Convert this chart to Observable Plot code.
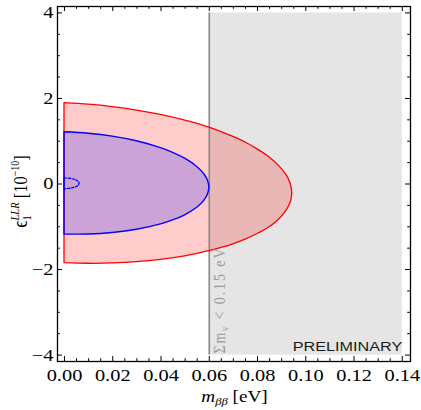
<!DOCTYPE html>
<html>
<head>
<meta charset="utf-8">
<script src="https://cdn.jsdelivr.net/npm/d3@7"></script>
<script src="https://cdn.jsdelivr.net/npm/@observablehq/plot@0.6"></script>
<style>
  html, body { margin: 0; padding: 0; background: #fff; }
</style>
</head>
<body>
<div id="chart"></div>
<script>
// ---------- data ----------
// outer (red) allowed region: x = m_bb [eV], top/bottom = epsilon bounds [1e-10]
const redX      = [0, 0.01, 0.02, 0.03, 0.04, 0.05, 0.06, 0.07, 0.075, 0.08, 0.085, 0.0888, 0.0922, 0.0935, 0.094, 0.0944];
const redTop    = [1.89, 1.855, 1.798, 1.718, 1.614, 1.481, 1.32, 1.10, 0.97, 0.81, 0.62, 0.43, 0.19, 0.04, -0.05, -0.22];
const redBottom = [-1.85, -1.865, -1.858, -1.828, -1.774, -1.691, -1.57, -1.41, -1.30, -1.17, -1.01, -0.84, -0.61, -0.47, -0.39, -0.22];

// inner (blue) allowed region
const blueX      = [0, 0.01, 0.02, 0.03, 0.04, 0.045, 0.05, 0.055, 0.058, 0.0595, 0.0601];
const blueTop    = [1.21, 1.176, 1.108, 0.999, 0.838, 0.729, 0.591, 0.399, 0.222, 0.07, -0.08];
const blueBottom = [-1.18, -1.18, -1.146, -1.071, -0.944, -0.852, -0.731, -0.556, -0.39, -0.24, -0.08];

// small dashed contour near the origin
const smallX      = [0, 0.002, 0.004, 0.005, 0.0058, 0.0063];
const smallTop    = [0.13, 0.124, 0.102, 0.081, 0.054, 0.005];
const smallBottom = [-0.12, -0.114, -0.092, -0.071, -0.044, 0.005];

// cosmological bound and excluded (shaded) band
const massBound = 0.06;
const shadeX = [0.06, 0.14];
const shadeY = [-4, 4];

// ticks
const xMajorTicks = [0, 0.02, 0.04, 0.06, 0.08, 0.10, 0.12, 0.14];
const xMinorTicks = [0.005, 0.01, 0.015, 0.025, 0.03, 0.035, 0.045, 0.05, 0.055, 0.065, 0.07, 0.075,
                     0.085, 0.09, 0.095, 0.105, 0.11, 0.115, 0.125, 0.13, 0.135];
const yMajorTicks = [-4, -2, 0, 2, 4];
const yMinorTicks = [-3.5, -3, -2.5, -1.5, -1, -0.5, 0.5, 1, 1.5, 2.5, 3, 3.5];

const boundLabel = ["Σm", "ν", " < 0.15 eV"];
const watermark = "PRELIMINARY";

// ---------- layout ----------
const W = 421, H = 410;
const M = {top: 6, right: 11, bottom: 49, left: 57};
const xDomain = [-0.0029, 0.1434];
const yDomain = [-4.15, 4.15];
const pxX = (W - M.left - M.right) / (xDomain[1] - xDomain[0]);
const pxY = (H - M.top - M.bottom) / (yDomain[1] - yDomain[0]);
const majLen = 5, minLen = 2.8;
const SX = 1.2; // horizontal stretch of the reference's lettering

const red   = redX.map((x, i) => ({x, top: redTop[i], bottom: redBottom[i]}));
const blue  = blueX.map((x, i) => ({x, top: blueTop[i], bottom: blueBottom[i]}));
const small = smallX.map((x, i) => ({x, top: smallTop[i], bottom: smallBottom[i]}));
const shade = [{x1: shadeX[0], x2: shadeX[1], y1: shadeY[0], y2: shadeY[1]}];

function xTicks(ticks, len) {
  return [
    Plot.ruleX(ticks, {x: d => d, y1: () => yDomain[0], y2: () => yDomain[0] + len / pxY, stroke: "black", strokeWidth: 1}),
    Plot.ruleX(ticks, {x: d => d, y1: () => yDomain[1], y2: () => yDomain[1] - len / pxY, stroke: "black", strokeWidth: 1})
  ];
}
function yTicks(ticks, len) {
  return [
    Plot.ruleY(ticks, {y: d => d, x1: () => xDomain[0], x2: () => xDomain[0] + len / pxX, stroke: "black", strokeWidth: 1}),
    Plot.ruleY(ticks, {y: d => d, x1: () => xDomain[1], x2: () => xDomain[1] - len / pxX, stroke: "black", strokeWidth: 1})
  ];
}

const curve = "catmull-rom";
const chart = Plot.plot({
  width: W, height: H,
  marginTop: M.top, marginRight: M.right, marginBottom: M.bottom, marginLeft: M.left,
  style: {fontFamily: "'Liberation Serif', serif", fontSize: "17px", color: "black", background: "white"},
  x: {domain: xDomain, axis: null},
  y: {domain: yDomain, axis: null},
  marks: [
    Plot.rect(shade, {x1: "x1", x2: "x2", y1: "y1", y2: "y2", fill: "#e5e5e5"}),
    Plot.areaY(red,  {x: "x", y1: "bottom", y2: "top", fill: "#ff0000", fillOpacity: 0.2, curve}),
    Plot.areaY(blue, {x: "x", y1: "bottom", y2: "top", fill: "#0000ff", fillOpacity: 0.2, curve}),
    Plot.ruleX([massBound], {x: d => d, y1: () => shadeY[0], y2: () => shadeY[1], stroke: "#8a8a8a", strokeWidth: 1.6}),
    Plot.areaY(red,  {x: "x", y1: "bottom", y2: "top", fill: "none", stroke: "#ff0000", strokeWidth: 1.3, curve}),
    Plot.areaY(blue, {x: "x", y1: "bottom", y2: "top", fill: "none", stroke: "#0000ff", strokeWidth: 1.4, curve}),
    Plot.areaY(small, {x: "x", y1: "bottom", y2: "top", fill: "none", stroke: "#0000ff", strokeWidth: 1.2, strokeDasharray: "2.5,1.5", curve}),
    Plot.text([watermark], {x: () => shadeX[1], y: () => shadeY[0], text: d => d, textAnchor: "end", lineAnchor: "bottom",
      dy: -4.5, fontFamily: "'Liberation Sans', Arial, sans-serif", fontSize: 13.5, fill: "#1a1a1a"}),
    ...xTicks(xMinorTicks, minLen), ...xTicks(xMajorTicks, majLen),
    ...yTicks(yMinorTicks, minLen), ...yTicks(yMajorTicks, majLen),
    Plot.frame({stroke: "black", strokeWidth: 1.3}),
    Plot.axisX(xMajorTicks, {anchor: "bottom", tickSize: 0, tickPadding: 7, tickFormat: d3.format(".2f"), label: null, fontSize: 17}),
    Plot.axisY(yMajorTicks, {anchor: "left", tickSize: 0, tickPadding: 4, label: null, fontSize: 17})
  ]
});
document.getElementById("chart").appendChild(chart);

const svgEl = chart.tagName.toLowerCase() === "svg" ? chart : chart.querySelector("svg");
const svg = d3.select(svgEl);

// stretch lettering horizontally like the reference
svg.selectAll("text").each(function () {
  const t = this.getAttribute("transform");
  if (t) {
    this.setAttribute("transform", t.replace(/(translate\([^)]*\))/, `$1 scale(${SX},1)`) + (/translate/.test(t) ? "" : ` scale(${SX},1)`));
  } else {
    const x = +(this.getAttribute("x") || 0), y = +(this.getAttribute("y") || 0);
    this.removeAttribute("x"); this.removeAttribute("y");
    this.setAttribute("transform", `translate(${x},${y}) scale(${SX},1)`);
  }
});

const sx = chart.scale("x"), sy = chart.scale("y");

// Σm_ν < 0.15 eV, rotated along the bound line
{
  const X = sx.apply(massBound) + 16, Y = sy.apply(shadeY[0]) - 1;
  const t = svg.append("text")
    .attr("transform", `translate(${X},${Y}) scale(${SX},1) rotate(-90)`)
    .attr("text-anchor", "start")
    .attr("font-family", "'Liberation Serif', serif")
    .attr("font-size", 14)
    .attr("letter-spacing", 1.9)
    .attr("fill", "#9a9a9a");
  t.append("tspan").text(boundLabel[0]);
  t.append("tspan").attr("font-size", 9).attr("dy", 3).text(boundLabel[1]);
  t.append("tspan").attr("dy", -3).text(boundLabel[2]);
}

// x title: m_ββ [eV]
{
  const X = (sx.apply(xDomain[0]) + sx.apply(xDomain[1])) / 2 + 1, Y = 402;
  const t = svg.append("text")
    .attr("transform", `translate(${X},${Y}) scale(${SX},1)`)
    .attr("text-anchor", "middle")
    .attr("font-family", "'Liberation Serif', serif")
    .attr("font-size", 16)
    .attr("fill", "black");
  t.append("tspan").attr("font-style", "italic").text("m");
  t.append("tspan").attr("font-style", "italic").attr("font-size", 10.5).attr("dy", 3).text("ββ");
  t.append("tspan").attr("dy", -3).text(" [eV]");
}

// y title: ϵ_1^{LLR} [10^{-10}]
{
  const X = 27, Y = (sy.apply(yDomain[0]) + sy.apply(yDomain[1])) / 2 + 8;
  const t = svg.append("text")
    .attr("transform", `translate(${X},${Y}) scale(${SX},1) rotate(-90)`)
    .attr("text-anchor", "middle")
    .attr("font-family", "'Liberation Serif', serif")
    .attr("font-size", 16.5)
    .attr("fill", "black");
  t.append("tspan").attr("font-size", 18).text("ϵ");
  t.append("tspan").attr("font-size", 10.5).attr("dy", 3.5).text("1");
  t.append("tspan").attr("font-size", 10.5).attr("font-style", "italic").attr("dx", -5.2).attr("dy", -10).text("LLR");
  t.append("tspan").attr("dy", 6.5).text(" [10");
  t.append("tspan").attr("font-size", 10).attr("dy", -6.5).text("−10");
  t.append("tspan").attr("dy", 6.5).text("]");
}
</script>
</body>
</html>
